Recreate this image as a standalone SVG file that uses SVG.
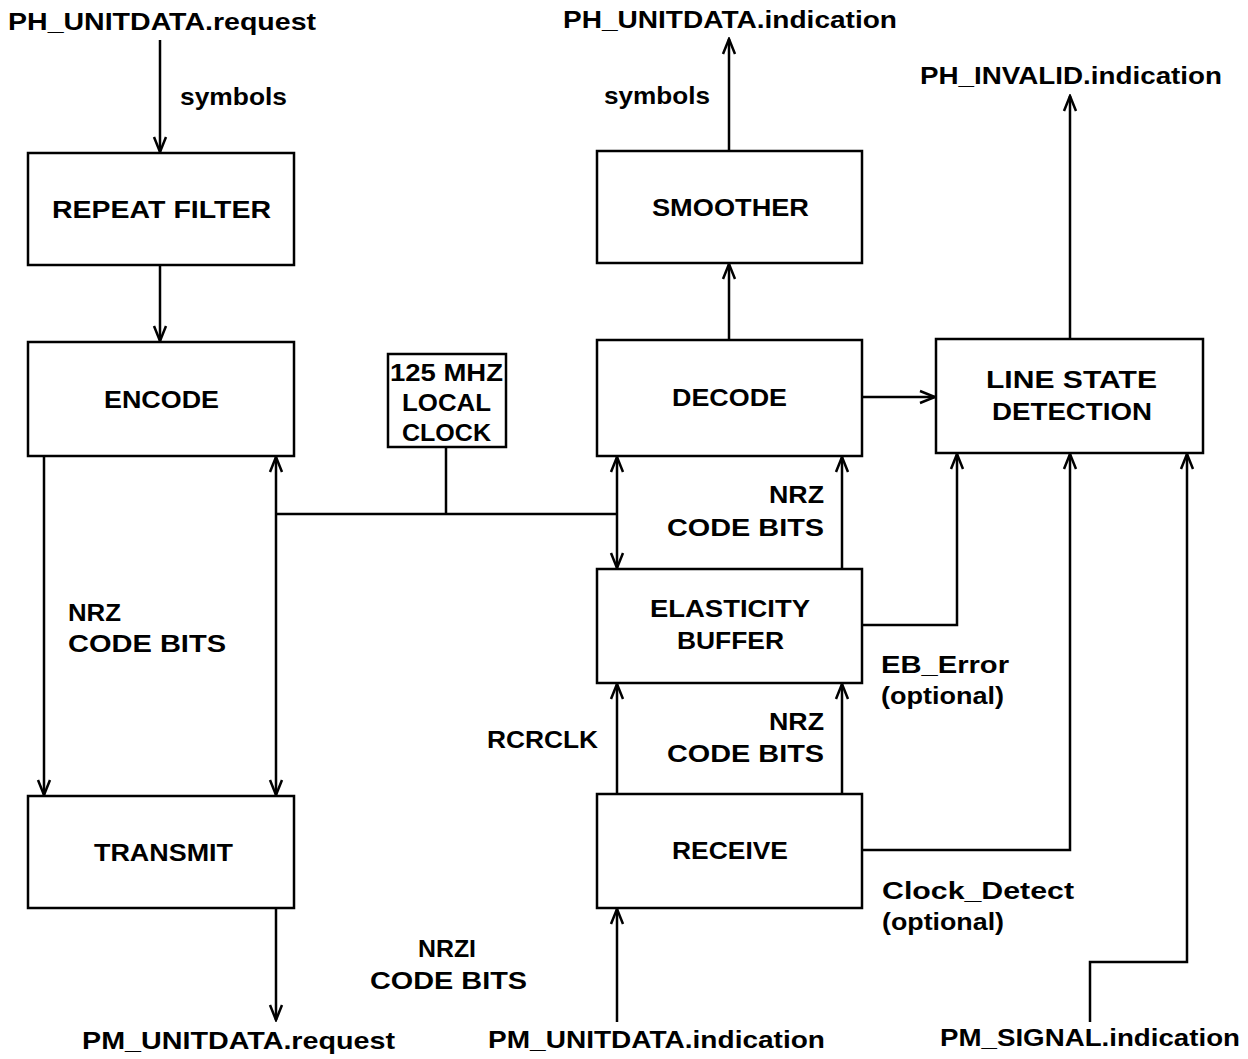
<svg xmlns="http://www.w3.org/2000/svg" width="1248" height="1059" viewBox="0 0 1248 1059">
<style>
.box{fill:#fff;stroke:#000;stroke-width:2.5}
.ln{fill:none;stroke:#000;stroke-width:2.5}
text{font-family:"Liberation Sans",Arial,sans-serif;font-weight:bold;font-size:24px;fill:#000}
</style>
<defs>
<marker id="ah" viewBox="-16 -8 18 16" refX="0" refY="0" markerWidth="18" markerHeight="16" markerUnits="userSpaceOnUse" orient="auto-start-reverse">
<path d="M-15,-6 L0,0 L-15,6" fill="none" stroke="#000" stroke-width="2.5"/>
</marker>
</defs>
<rect width="1248" height="1059" fill="#fff"/>
<g id="connectors">
<line class="ln" x1="160" y1="40" x2="160" y2="152" marker-end="url(#ah)"/>
<line class="ln" x1="160" y1="265" x2="160" y2="341" marker-end="url(#ah)"/>
<line class="ln" x1="44" y1="456" x2="44" y2="795" marker-end="url(#ah)"/>
<line class="ln" x1="276" y1="457" x2="276" y2="795" marker-start="url(#ah)" marker-end="url(#ah)"/>
<line class="ln" x1="276" y1="514" x2="617" y2="514"/>
<line class="ln" x1="446" y1="447" x2="446" y2="514"/>
<line class="ln" x1="617" y1="457" x2="617" y2="568" marker-start="url(#ah)" marker-end="url(#ah)"/>
<line class="ln" x1="842" y1="569" x2="842" y2="457" marker-end="url(#ah)"/>
<line class="ln" x1="729" y1="340" x2="729" y2="264" marker-end="url(#ah)"/>
<line class="ln" x1="729" y1="151" x2="729" y2="39" marker-end="url(#ah)"/>
<line class="ln" x1="862" y1="397" x2="935" y2="397" marker-end="url(#ah)"/>
<line class="ln" x1="1070" y1="339" x2="1070" y2="96" marker-end="url(#ah)"/>
<path class="ln" d="M862,625 H957 V454" marker-end="url(#ah)"/>
<path class="ln" d="M862,850 H1070 V454" marker-end="url(#ah)"/>
<path class="ln" d="M1090,1022 V962 H1187 V454" marker-end="url(#ah)"/>
<line class="ln" x1="617" y1="794" x2="617" y2="684" marker-end="url(#ah)"/>
<line class="ln" x1="842" y1="794" x2="842" y2="684" marker-end="url(#ah)"/>
<line class="ln" x1="617" y1="1022" x2="617" y2="909" marker-end="url(#ah)"/>
<line class="ln" x1="276" y1="908" x2="276" y2="1020" marker-end="url(#ah)"/>
</g>
<g id="labels">
<text x="8" y="30" textLength="308" lengthAdjust="spacingAndGlyphs">PH_UNITDATA.request</text>
<text x="180" y="105" textLength="107" lengthAdjust="spacingAndGlyphs">symbols</text>
<text x="563" y="28" textLength="334" lengthAdjust="spacingAndGlyphs">PH_UNITDATA.indication</text>
<text x="604" y="104" textLength="106" lengthAdjust="spacingAndGlyphs">symbols</text>
<text x="920" y="84" textLength="302" lengthAdjust="spacingAndGlyphs">PH_INVALID.indication</text>
<text x="68" y="621" textLength="53" lengthAdjust="spacingAndGlyphs">NRZ</text>
<text x="68" y="652" textLength="158" lengthAdjust="spacingAndGlyphs">CODE  BITS</text>
<text x="769" y="503" textLength="55" lengthAdjust="spacingAndGlyphs">NRZ</text>
<text x="667" y="536" textLength="157" lengthAdjust="spacingAndGlyphs">CODE  BITS</text>
<text x="881" y="673" textLength="128" lengthAdjust="spacingAndGlyphs">EB_Error</text>
<text x="881" y="704" textLength="123" lengthAdjust="spacingAndGlyphs">(optional)</text>
<text x="769" y="730" textLength="55" lengthAdjust="spacingAndGlyphs">NRZ</text>
<text x="667" y="762" textLength="157" lengthAdjust="spacingAndGlyphs">CODE  BITS</text>
<text x="487" y="748" textLength="111" lengthAdjust="spacingAndGlyphs">RCRCLK</text>
<text x="882" y="899" textLength="192" lengthAdjust="spacingAndGlyphs">Clock_Detect</text>
<text x="882" y="930" textLength="122" lengthAdjust="spacingAndGlyphs">(optional)</text>
<text x="418" y="957" textLength="58" lengthAdjust="spacingAndGlyphs">NRZI</text>
<text x="370" y="989" textLength="157" lengthAdjust="spacingAndGlyphs">CODE  BITS</text>
<text x="82" y="1049" textLength="313" lengthAdjust="spacingAndGlyphs">PM_UNITDATA.request</text>
<text x="488" y="1048" textLength="337" lengthAdjust="spacingAndGlyphs">PM_UNITDATA.indication</text>
<text x="940" y="1046" textLength="300" lengthAdjust="spacingAndGlyphs">PM_SIGNAL.indication</text>
</g>
<g id="repeat-filter">
<rect class="box" x="28" y="153" width="266" height="112"/>
<text x="52" y="218" textLength="219" lengthAdjust="spacingAndGlyphs">REPEAT  FILTER</text>
</g>
<g id="encode">
<rect class="box" x="28" y="342" width="266" height="114"/>
<text x="104" y="408" textLength="115" lengthAdjust="spacingAndGlyphs">ENCODE</text>
</g>
<g id="transmit">
<rect class="box" x="28" y="796" width="266" height="112"/>
<text x="94" y="861" textLength="139" lengthAdjust="spacingAndGlyphs">TRANSMIT</text>
</g>
<g id="local-clock">
<rect class="box" x="388" y="354" width="118" height="93"/>
<text x="390" y="381" textLength="113" lengthAdjust="spacingAndGlyphs">125  MHZ</text>
<text x="402" y="411" textLength="89" lengthAdjust="spacingAndGlyphs">LOCAL</text>
<text x="402" y="441" textLength="89" lengthAdjust="spacingAndGlyphs">CLOCK</text>
</g>
<g id="smoother">
<rect class="box" x="597" y="151" width="265" height="112"/>
<text x="652" y="216" textLength="157" lengthAdjust="spacingAndGlyphs">SMOOTHER</text>
</g>
<g id="decode">
<rect class="box" x="597" y="340" width="265" height="116"/>
<text x="672" y="406" textLength="115" lengthAdjust="spacingAndGlyphs">DECODE</text>
</g>
<g id="elasticity-buffer">
<rect class="box" x="597" y="569" width="265" height="114"/>
<text x="650" y="617" textLength="160" lengthAdjust="spacingAndGlyphs">ELASTICITY</text>
<text x="677" y="649" textLength="107" lengthAdjust="spacingAndGlyphs">BUFFER</text>
</g>
<g id="receive">
<rect class="box" x="597" y="794" width="265" height="114"/>
<text x="672" y="859" textLength="116" lengthAdjust="spacingAndGlyphs">RECEIVE</text>
</g>
<g id="line-state-detection">
<rect class="box" x="936" y="339" width="267" height="114"/>
<text x="986" y="388" textLength="171" lengthAdjust="spacingAndGlyphs">LINE  STATE</text>
<text x="992" y="420" textLength="160" lengthAdjust="spacingAndGlyphs">DETECTION</text>
</g>
</svg>
